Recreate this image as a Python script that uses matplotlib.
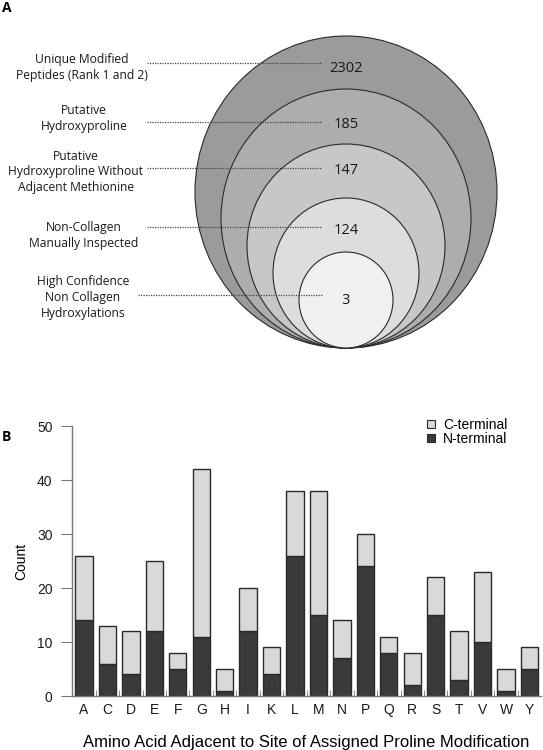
import matplotlib
matplotlib.use("Agg")
import matplotlib.pyplot as plt
from matplotlib.patches import Ellipse, Patch

# ---------------- data ----------------
stage_labels = [
    "Unique Modified\nPeptides (Rank 1 and 2)",
    "Putative\nHydroxyproline",
    "Putative\nHydroxyproline Without\nAdjacent Methionine",
    "Non-Collagen\nManually Inspected",
    "High Confidence\nNon Collagen\nHydroxylations",
]
stage_counts = [2302, 185, 147, 124, 3]

amino_acids = ["A", "C", "D", "E", "F", "G", "H", "I", "K", "L",
               "M", "N", "P", "Q", "R", "S", "T", "V", "W", "Y"]
n_terminal = [14, 6, 4, 12, 5, 11, 1, 12, 4, 26,
              15, 7, 24, 8, 2, 15, 3, 10, 1, 5]
totals = [26, 13, 12, 25, 8, 42, 5, 20, 9, 38,
          38, 14, 30, 11, 8, 22, 12, 23, 5, 9]
c_terminal = [t - n for t, n in zip(totals, n_terminal)]

# ---------------- figure ----------------
W, H = 543, 750
fig = plt.figure(figsize=(W / 100, H / 100), dpi=100)

# Panel A drawn in pixel coordinates
axA = fig.add_axes([0, 0, 1, 1])
axA.set_xlim(0, W)
axA.set_ylim(H, 0)
axA.axis("off")

cx, bottom = 346, 348
rx = [151, 125, 99, 73, 47]
ry = [156, 129.5, 102, 75, 48]
fills = ["#9b9b9b", "#adadad", "#c7c7c7", "#dddddd", "#f0f0f0"]
for r_x, r_y, fc in zip(rx, ry, fills):
    axA.add_patch(Ellipse((cx, bottom - r_y), 2 * r_x, 2 * r_y,
                          facecolor=fc, edgecolor="#2a2a2a", lw=0.8))

label_font = ["Open Sans", "DejaVu Sans"]
label_x = [82, 84, 76, 84, 83]
label_y = [68, 118.5, 172, 235.5, 298]
line_y = [63, 122, 168, 227, 295]
line_x0 = [147, 147, 147, 147, 138]
num_y = [68, 125, 171, 230, 301]
for i, (lab, cnt) in enumerate(zip(stage_labels, stage_counts)):
    axA.text(label_x[i], label_y[i], lab, ha="center", va="center",
             fontsize=8.7, family=label_font, linespacing=1.3, color="#1a1a1a")
    axA.plot([line_x0[i], 322], [line_y[i], line_y[i]], color="#444444",
             lw=0.9, linestyle=(0, (1, 1)))
    axA.text(cx, num_y[i], str(cnt), ha="center", va="center",
             fontsize=10.5, family=label_font, color="#1a1a1a")

axA.text(2, 8, "A", fontsize=10, fontweight="bold", family=label_font,
         ha="left", va="center")
axA.text(2, 437, "B", fontsize=10, fontweight="bold", family=label_font,
         ha="left", va="center")

# Panel B stacked bars
bar_font = ["Liberation Sans", "DejaVu Sans"]
axB = fig.add_axes([72 / W, (H - 696) / H, (541 - 72) / W, 270 / H])
x = list(range(len(amino_acids)))
axB.bar(x, n_terminal, width=0.74, color="#3a3a3a", edgecolor="#2a2a2a",
        lw=1.0, label="N-terminal")
axB.bar(x, c_terminal, width=0.74, bottom=n_terminal, color="#d9d9d9",
        edgecolor="#2a2a2a", lw=1.0, label="C-terminal")
axB.set_xlim(-0.51, 19.49)
axB.set_ylim(0, 50)
axB.set_yticks([0, 10, 20, 30, 40, 50])
axB.set_xticks(x)
axB.set_xticklabels(amino_acids)
axB.set_xticks([i + 0.5 for i in x[:-1]], minor=True)
for s in ["top", "right"]:
    axB.spines[s].set_visible(False)
for s in ["left", "bottom"]:
    axB.spines[s].set_color("#777777")
    axB.spines[s].set_linewidth(1.0)
axB.tick_params(axis="y", direction="out", length=8, color="#777777",
                labelsize=10, pad=6)
axB.tick_params(axis="x", which="major", length=0, labelsize=10, pad=5)
axB.tick_params(axis="x", which="minor", direction="in", length=4,
                color="#777777")
for lab in axB.get_xticklabels() + axB.get_yticklabels():
    lab.set_family(bar_font)
    lab.set_color("#1a1a1a")
axB.set_ylabel("Count", fontsize=10, family=bar_font, labelpad=6)
axB.set_xlabel("Amino Acid Adjacent to Site of Assigned Proline Modification",
               fontsize=12, family=bar_font, labelpad=13)

handles = [Patch(facecolor="#d9d9d9", edgecolor="#2a2a2a", lw=0.8),
           Patch(facecolor="#3a3a3a", edgecolor="#2a2a2a", lw=0.8)]
leg = fig.legend(handles, ["C-terminal", "N-terminal"], loc="upper left",
                 bbox_to_anchor=(427 / W, 1 - 418 / H), frameon=False,
                 handlelength=0.55, handleheight=0.55, handletextpad=0.6,
                 labelspacing=0.0, borderpad=0, borderaxespad=0,
                 prop={"family": bar_font, "size": 10})

fig.savefig("out.png", dpi=100)
